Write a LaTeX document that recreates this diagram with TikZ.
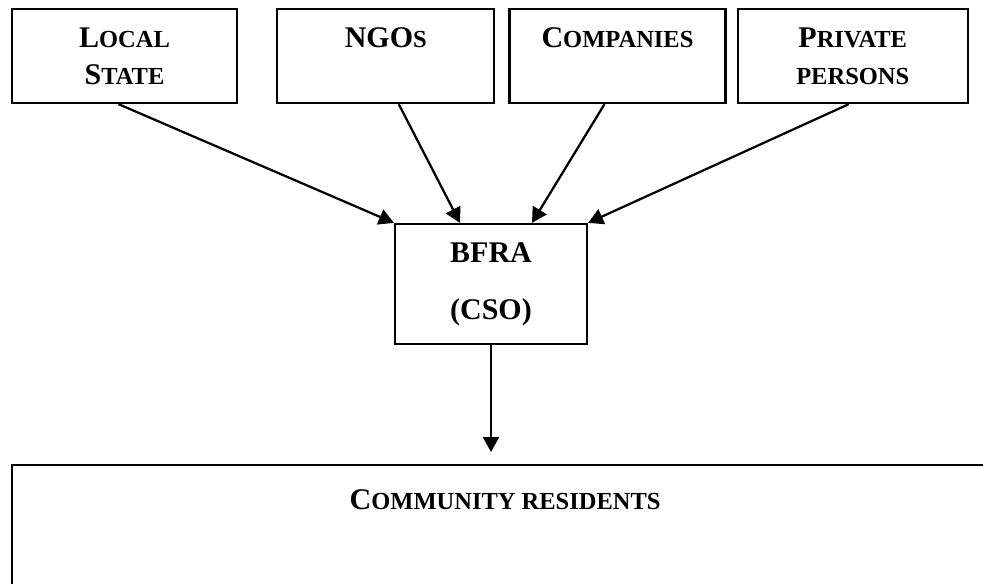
\documentclass[tikz,border=0pt]{standalone}
\usepackage{fontspec}
\setmainfont{Liberation Serif}
\usetikzlibrary{arrows.meta}
\usetikzlibrary{positioning}
\newcommand{\fsc}[1]{{\fontsize{9.8}{12}\selectfont #1}}

\begin{document}
\begin{tikzpicture}[x=0.4pt,y=-0.4pt]
\tikzset{srcbox/.style={draw,line width=0.9pt,minimum height=37.6pt,align=center,inner sep=0pt,font=\fontsize{12}{14.8}\selectfont\bfseries},
flow/.style={line width=0.9pt,-{Triangle[length=6pt,width=6.4pt]}}}
\useasboundingbox (0,0) rectangle (983,583);
\clip (0,0) rectangle (983,583);
\node[srcbox,minimum width=90pt](ls) at (124.5,56){L\fsc{OCAL}\\S\fsc{TATE}};
\node[srcbox,minimum width=86.8pt](ngo)[right=15.2pt of ls]{NGO\fsc{S}\\\mbox{}};
\node[srcbox,minimum width=86.4pt](co)[right=5.2pt of ngo]{C\fsc{OMPANIES}\\\mbox{}};
\node[srcbox,minimum width=92pt](pp)[right=4pt of co]{P\fsc{RIVATE}\\\fsc{PERSONS}};
\node[srcbox,minimum width=76.8pt,minimum height=48pt](cso) at (491,284){BFRA\\[8pt](CSO)};
\node[draw,line width=0.9pt,anchor=north west,minimum width=394.4pt,inner xsep=0pt,inner ysep=9.6pt,text height=8pt,text depth=40pt,font=\fontsize{12}{14.8}\selectfont\bfseries](cr) at (11,464){C\fsc{OMMUNITY RESIDENTS}};
\draw[flow]([xshift=-2.4pt]ls.south) -- (cso.north west);
\draw[flow]([xshift=5.2pt]ngo.south) -- ([xshift=-12.4pt]cso.north);
\draw[flow]([xshift=-5.2pt]co.south) -- ([xshift=16.4pt]cso.north);
\draw[flow]([xshift=-1.6pt]pp.south) -- (cso.north east);
\draw[flow,shorten >=4.8pt](cso) -- (cso |- cr.north);
\end{tikzpicture}
\end{document}
